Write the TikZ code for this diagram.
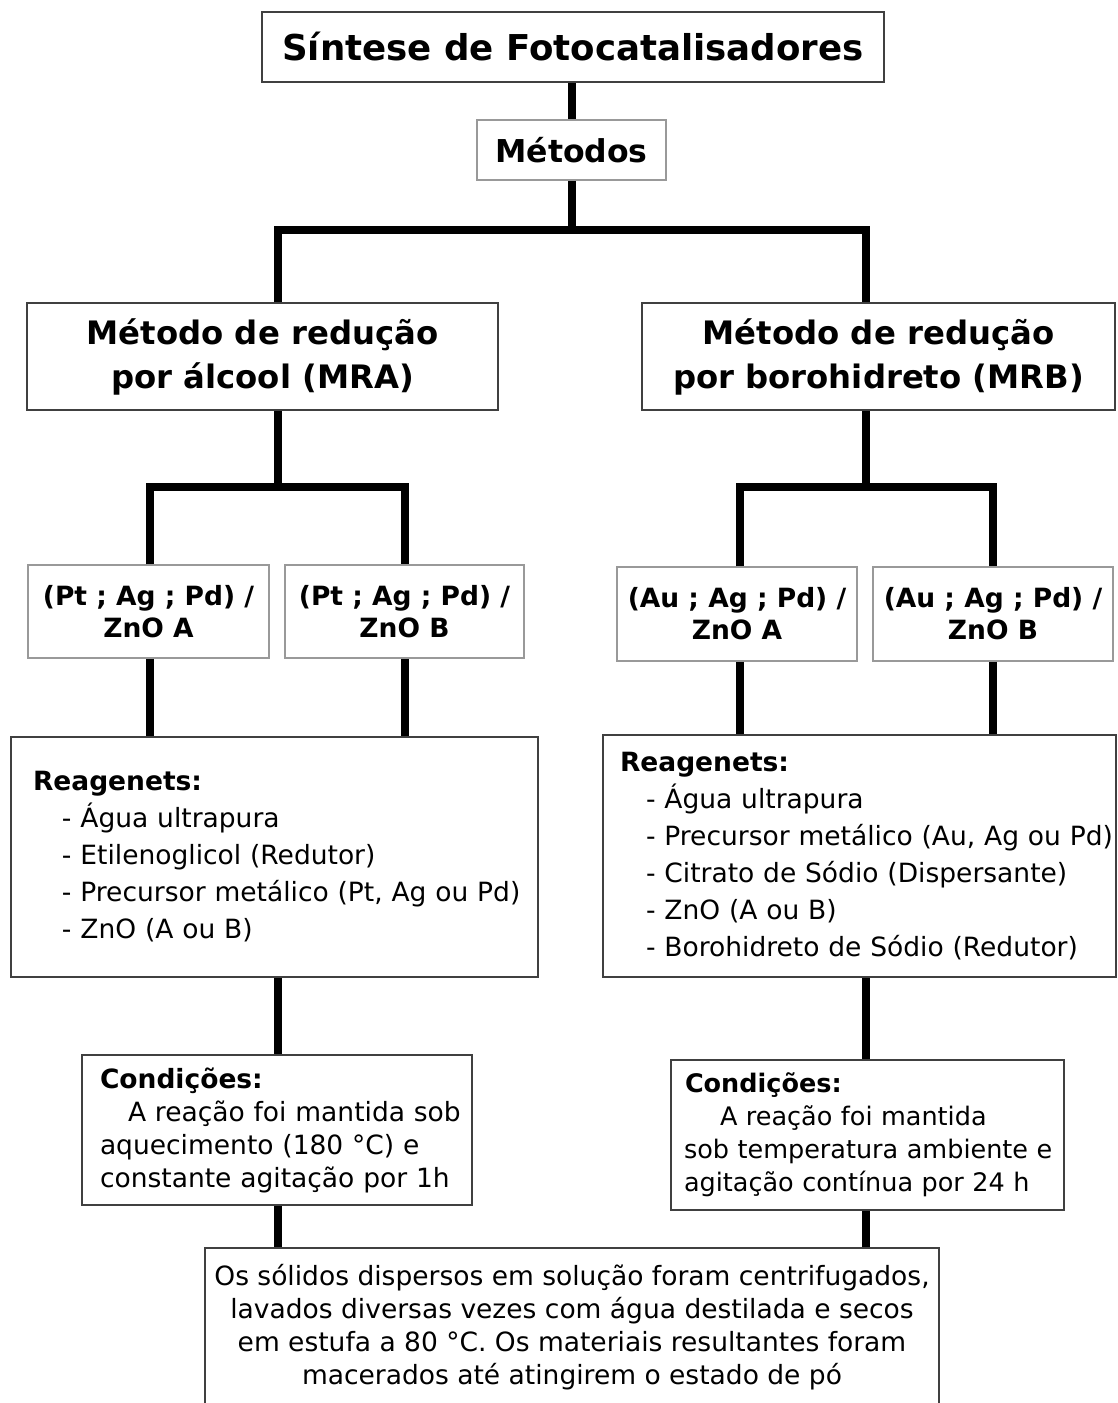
\documentclass[tikz,border=0pt]{standalone}
\usepackage{fontspec}
\setmainfont{DejaVu Sans}
\begin{document}
\begin{tikzpicture}[x=1pt,y=-1pt,
  box/.style={draw=black!75,line width=2pt,rectangle,inner sep=0pt,anchor=center,fill=white},
  lbox/.style={draw=black!40,line width=1.5pt,rectangle,inner sep=0pt,anchor=center,fill=white},
  conn/.style={line width=8pt,black,line cap=butt,line join=miter},
  big/.style={font=\bfseries\fontsize{32.3}{44}\selectfont,align=center},
  mid/.style={font=\bfseries\fontsize{26.5}{32}\selectfont,align=center},
  txt/.style={font=\fontsize{26.5}{37}\selectfont,align=left,inner xsep=4pt},
  ctxt/.style={font=\fontsize{26.5}{33}\selectfont}
]
\useasboundingbox (0,0) rectangle (1117,1403);
\fill[white] (0,0) rectangle (1117,1403);

\coordinate (cM) at (572,0);
\coordinate (cL) at (278,0);
\coordinate (cR) at (866,0);
\coordinate (cLA) at (150,0);
\coordinate (cLB) at (405,0);
\coordinate (cRA) at (740,0);
\coordinate (cRB) at (993,0);
\coordinate (j1) at (572,230);
\coordinate (j2) at (278,487);
\coordinate (j3) at (866,487);

\node[box,minimum width=622,minimum height=70,font=\bfseries\fontsize{35.6}{44}\selectfont] (title) at (573,47) {Síntese de Fotocatalisadores};
\node[lbox,minimum width=189,minimum height=60,font=\bfseries\fontsize{31.5}{40}\selectfont] (met) at (571.5,150) {Métodos};

\node[box,minimum width=471,minimum height=107,big] (mra) at (262.5,356.5) {Método de redução\\por álcool (MRA)};
\node[box,minimum width=473,minimum height=107,big] (mrb) at (878.5,356.5) {Método de redução\\por borohidreto (MRB)};

\node[lbox,minimum width=241,minimum height=93,mid] (pta) at (148.5,611.5) {(Pt ; Ag ; Pd) /\\ZnO A};
\node[lbox,minimum width=239,minimum height=93,mid] (ptb) at (404.5,611.5) {(Pt ; Ag ; Pd) /\\ZnO B};
\node[lbox,minimum width=240,minimum height=94,mid] (aua) at (737,614) {(Au ; Ag ; Pd) /\\ZnO A};
\node[lbox,minimum width=240,minimum height=94,mid] (aub) at (993,614) {(Au ; Ag ; Pd) /\\ZnO B};

\node[box,minimum width=527,minimum height=240,text width=519,txt] (rl) at (274.5,857) {\mbox{\hspace*{18pt}\textbf{Reagenets:}}\\
\mbox{\hspace*{47pt}- Água ultrapura}\\
\mbox{\hspace*{47pt}- Etilenoglicol (Redutor)}\\
\mbox{\hspace*{47pt}- Precursor metálico (Pt, Ag ou Pd)}\\
\mbox{\hspace*{47pt}- ZnO (A ou B)}};

\node[box,minimum width=513,minimum height=242,text width=505,txt] (rr) at (859.5,856) {\mbox{\hspace*{13pt}\textbf{Reagenets:}}\\
\mbox{\hspace*{39pt}- Água ultrapura}\\
\mbox{\hspace*{39pt}- Precursor metálico (Au, Ag ou Pd)}\\
\mbox{\hspace*{39pt}- Citrato de Sódio (Dispersante)}\\
\mbox{\hspace*{39pt}- ZnO (A ou B)}\\
\mbox{\hspace*{39pt}- Borohidreto de Sódio (Redutor)}};

\node[box,minimum width=390,minimum height=150,text width=382,inner xsep=4pt,align=left,ctxt] (cl) at (277,1130) {\mbox{\hspace*{14pt}\textbf{Condições:}}\\
\mbox{\hspace*{42pt}A reação foi mantida sob}\\
\mbox{\hspace*{14pt}aquecimento (180 °C) e}\\
\mbox{\hspace*{14pt}constante agitação por 1h}};

\node[box,minimum width=393,minimum height=150,text width=385,inner xsep=4pt,align=left,font=\fontsize{25.5}{33}\selectfont] (cr) at (867.5,1135) {\mbox{\hspace*{10pt}\textbf{Condições:}}\\
\mbox{\hspace*{45pt}A reação foi mantida}\\
\mbox{\hspace*{9pt}sob temperatura ambiente e}\\
\mbox{\hspace*{9pt}agitação contínua por 24 h}};

\node[box,minimum width=734,minimum height=158,align=center,ctxt] (fim) at (572,1327) {Os sólidos dispersos em solução foram centrifugados,\\
lavados diversas vezes com água destilada e secos\\
em estufa a 80 °C. Os materiais resultantes foram\\
macerados até atingirem o estado de pó};

% connectors
\draw[conn] (cM |- title.south) -- (cM |- met.north);
\draw[conn] (cM |- met.south) -- (j1);
\draw[conn] (cL |- mra.north) |- (j1) -| (cR |- mrb.north);
\draw[conn] (cL |- mra.south) -- (j2);
\draw[conn] (cLA |- pta.north) |- (j2) -| (cLB |- ptb.north);
\draw[conn] (cR |- mrb.south) -- (j3);
\draw[conn] (cRA |- aua.north) |- (j3) -| (cRB |- aub.north);
\draw[conn] (cLA |- pta.south) -- (cLA |- rl.north);
\draw[conn] (cLB |- ptb.south) -- (cLB |- rl.north);
\draw[conn] (cRA |- aua.south) -- (cRA |- rr.north);
\draw[conn] (cRB |- aub.south) -- (cRB |- rr.north);
\draw[conn] (cL |- rl.south) -- (cL |- cl.north);
\draw[conn] (cR |- rr.south) -- (cR |- cr.north);
\draw[conn] (cL |- cl.south) -- (cL |- fim.north);
\draw[conn] (cR |- cr.south) -- (cR |- fim.north);
\end{tikzpicture}
\end{document}
